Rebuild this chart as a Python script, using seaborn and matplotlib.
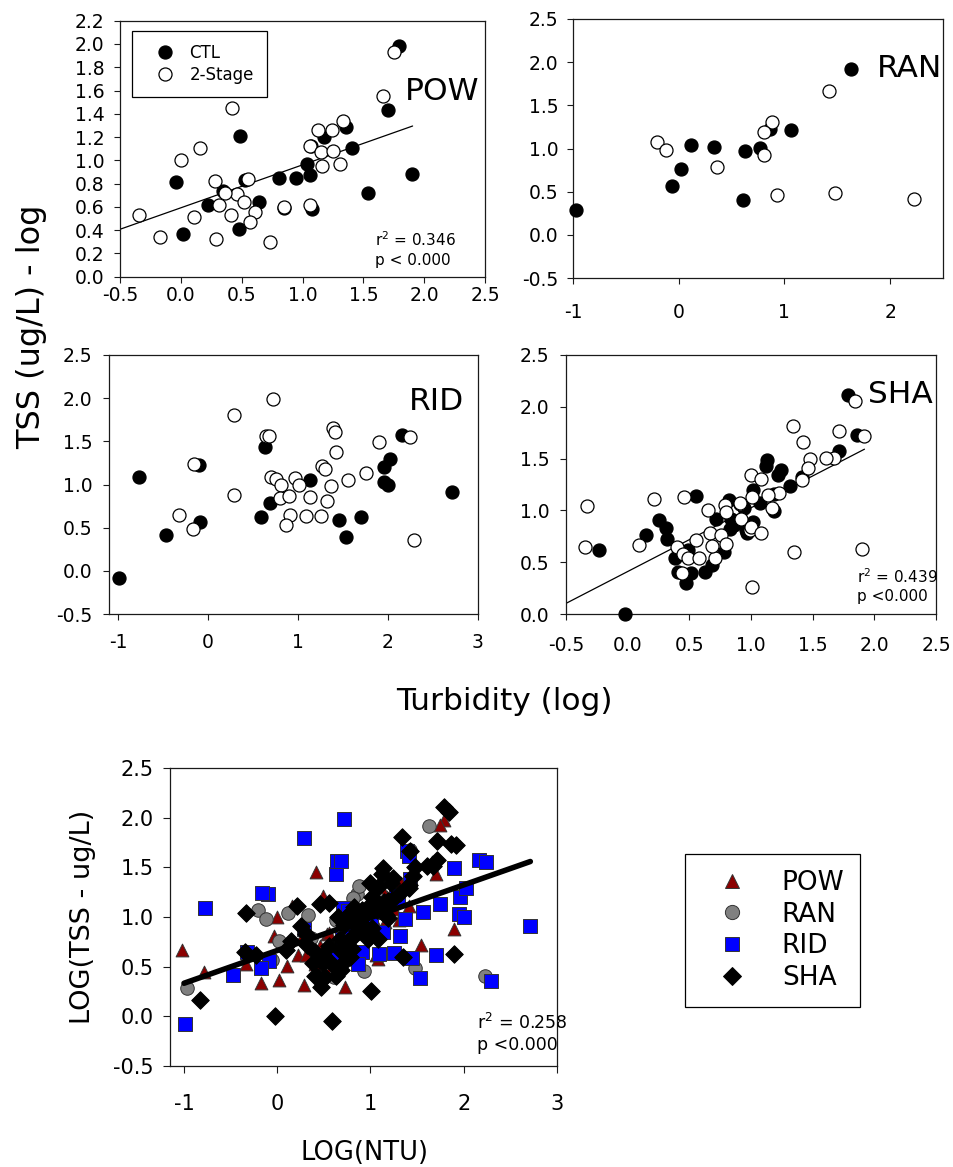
import numpy as np
import pandas as pd
import matplotlib
matplotlib.use("Agg")
import matplotlib.pyplot as plt
from matplotlib.ticker import FormatStrFormatter
from matplotlib.lines import Line2D
import seaborn as sns

# ---------------- data (log10 turbidity, log10 TSS) ----------------
POW_CTL_X = [1.79, 1.70, 0.49, 1.36, 1.41, 1.18, 1.07, 1.04, 1.06, 0.95, 0.81, 1.90, 1.54,
             1.08, 0.85, 0.64, 0.53, 0.35, 0.22, 0.48, 0.02, -0.04]
POW_CTL_Y = [1.98, 1.43, 1.21, 1.29, 1.11, 1.20, 1.12, 0.97, 0.87, 0.85, 0.85, 0.88, 0.72,
             0.58, 0.59, 0.64, 0.83, 0.74, 0.62, 0.41, 0.37, 0.81]
POW_2S_X = [1.75, 1.66, 0.42, 1.33, 1.13, 1.24, 1.06, 1.15, 1.25, 1.31, 1.16, 1.06, 0.85, 0.61,
            0.57, 0.55, 0.46, 0.52, 0.36, 0.28, 0.31, 0.41, 0.73, 0.29, 0.11, -0.17, -0.34, 0.00,
            0.16, -1.02, -0.79]
POW_2S_Y = [1.93, 1.55, 1.45, 1.34, 1.26, 1.26, 1.12, 1.07, 1.08, 0.97, 0.95, 0.62, 0.60, 0.56,
            0.47, 0.84, 0.71, 0.64, 0.72, 0.82, 0.62, 0.53, 0.30, 0.32, 0.51, 0.34, 0.53, 1.00,
            1.11, 0.67, 0.45]

RAN_CTL_X = [-0.97, -0.06, 0.02, 0.12, 0.33, 0.63, 0.61, 0.77, 0.86, 1.06, 1.63]
RAN_CTL_Y = [0.29, 0.57, 0.76, 1.04, 1.02, 0.97, 0.40, 1.01, 1.23, 1.21, 1.92]
RAN_2S_X = [-0.21, -0.12, 0.36, 0.88, 0.81, 0.81, 0.93, 1.42, 1.48, 2.23]
RAN_2S_Y = [1.07, 0.98, 0.79, 1.31, 1.19, 0.93, 0.46, 1.67, 0.49, 0.41]

RID_CTL_X = [-0.99, -0.77, -0.47, -0.09, -0.10, 0.59, 0.63, 0.69, 1.13, 1.45, 1.53, 1.70,
             1.96, 2.02, 1.95, 2.00, 2.16, 2.71]
RID_CTL_Y = [-0.08, 1.09, 0.42, 0.56, 1.23, 0.62, 1.43, 0.78, 1.05, 0.59, 0.39, 0.62,
             1.20, 1.29, 1.03, 1.00, 1.57, 0.91]
RID_2S_X = [-0.32, -0.17, -0.16, 0.29, 0.29, 0.64, 0.68, 0.72, 0.70, 0.76, 0.81, 0.80, 0.90,
            0.91, 0.87, 0.97, 1.01, 1.09, 1.13, 1.25, 1.27, 1.30, 1.32, 1.37, 1.39, 1.41, 1.42,
            1.56, 1.75, 1.90, 2.24, 2.29]
RID_2S_Y = [0.65, 0.49, 1.24, 1.80, 0.88, 1.56, 1.56, 1.99, 1.09, 1.06, 1.00, 0.84, 0.87,
            0.65, 0.53, 1.07, 0.99, 0.63, 0.85, 0.64, 1.22, 1.18, 0.81, 0.98, 1.66, 1.61, 1.38,
            1.05, 1.13, 1.49, 1.55, 0.36]

SHA_CTL_X = [-0.02, -0.23, 0.15, 0.25, 0.31, 0.32, 0.38, 0.49, 0.41, 0.51, 0.47, 0.55, 0.63,
             0.68, 0.78, 0.72, 0.82, 0.86, 0.84, 0.96, 1.02, 1.79, 1.86, 1.71, 1.13, 1.12, 1.24,
             1.22, 1.41, 1.32, 1.19, 1.07, 1.19, 0.94, 1.02, 0.83, 0.97, -0.83, 0.59]
SHA_CTL_Y = [0.00, 0.62, 0.76, 0.91, 0.83, 0.72, 0.54, 0.62, 0.41, 0.40, 0.30, 1.14, 0.41,
             0.47, 0.60, 0.92, 1.10, 0.86, 0.92, 0.81, 1.20, 2.11, 1.73, 1.57, 1.49, 1.43, 1.39,
             1.34, 1.32, 1.24, 1.16, 1.07, 0.99, 1.02, 0.89, 0.82, 0.78, 0.16, -0.05]
SHA_2S_X = [-0.33, -0.35, 0.09, 0.21, 0.40, 0.45, 0.49, 0.44, 0.46, 0.55, 0.58, 0.71, 0.67,
            0.68, 0.76, 0.80, 0.65, 0.79, 0.80, 0.92, 0.91, 0.99, 1.01, 1.00, 1.01, 1.84, 1.34,
            1.71, 1.92, 1.42, 1.67, 1.61, 1.48, 1.46, 1.08, 1.41, 1.23, 1.14, 0.91, 1.17, 1.00,
            1.08, 1.35, 1.90]
SHA_2S_Y = [1.04, 0.65, 0.67, 1.11, 0.65, 0.58, 0.54, 0.40, 1.13, 0.71, 0.54, 0.54, 0.78,
            0.66, 0.76, 0.68, 1.00, 1.05, 0.98, 0.92, 1.06, 0.81, 1.13, 1.34, 0.26, 2.06, 1.81,
            1.77, 1.72, 1.66, 1.51, 1.51, 1.50, 1.41, 1.30, 1.29, 1.17, 1.15, 1.07, 1.02, 0.84,
            0.78, 0.60, 0.63]

# fitted regression lines: x-extent, (slope, intercept)
POW_FIT_X = [-0.5, 1.905]
POW_FIT = (0.369, 0.592)
SHA_FIT_X = [-0.5, 1.92]
SHA_FIT = (0.615, 0.410)
ALL_FIT_X = [-1.0, 2.714]
ALL_FIT = (0.330, 0.663)

POW_STATS = ["r$^2$ = 0.346", "p < 0.000"]
SHA_STATS = ["r$^2$ = 0.439", "p <0.000"]
ALL_STATS = ["r$^2$ = 0.258", "p <0.000"]

SITES = ["POW", "RAN", "RID", "SHA"]
SITE_COLORS = ["#8B0000", "#808080", "#0000FF", "#000000"]
SITE_MARKERS = ["^", "o", "s", "D"]
SITE_SIZES = [85, 95, 88, 80]

# ---------------- figure ----------------
sns.set_theme(style="ticks")
plt.rcParams["font.family"] = ["DejaVu Sans"]
plt.rcParams["mathtext.fontset"] = "dejavusans"
for k in ["text.color", "axes.labelcolor", "xtick.color", "ytick.color", "axes.edgecolor"]:
    plt.rcParams[k] = "black"

W, H = 954, 1167
fig = plt.figure(figsize=(W / 100, H / 100), dpi=100)


def rect(l, t, r, b):
    return [l / W, 1 - b / H, (r - l) / W, (b - t) / H]


def style_axes(ax, xpad, ypad, labelsize, ticklen=4):
    for sp in ax.spines.values():
        sp.set_visible(True)
        sp.set_color("#1a1a1a")
        sp.set_linewidth(0.9)
    ax.tick_params(axis="both", direction="out", length=ticklen, width=0.8,
                   labelsize=labelsize, colors="#1a1a1a", labelcolor="black")
    ax.tick_params(axis="x", pad=xpad)
    ax.tick_params(axis="y", pad=ypad)
    ax.set_xlabel("")
    ax.set_ylabel("")
    ax.set_facecolor("white")


def line_from_fit(ax, fx, fit, lw, zorder=2):
    fx = np.asarray(fx)
    fy = fit[1] + fit[0] * fx
    sns.lineplot(x=fx, y=fy, ax=ax, color="black", linewidth=lw, zorder=zorder,
                 estimator=None, sort=False)


def top_panel(box, cx, cy, sx, sy, xlim, ylim, xticks, yticks, xfmt, yfmt,
              name, name_xy, xpad, ypad, fit_x=None, fit=None, stats=None, stats_xy=None,
              legend=False):
    ax = fig.add_axes(rect(*box))
    if fit is not None:
        line_from_fit(ax, fit_x, fit, 0.9)
    for xs, ys, fc in [(cx, cy, "black"), (sx, sy, "white")]:
        df = pd.DataFrame({"x": xs, "y": ys})
        m = (df.x >= xlim[0] - 1e-9) & (df.x <= xlim[1]) & (df.y >= ylim[0] - 1e-9) & (df.y <= ylim[1])
        sns.scatterplot(data=df[m], x="x", y="y", ax=ax, color=fc, edgecolor="black",
                        linewidth=0.9, s=88, clip_on=False, zorder=3, legend=False)
    ax.set_xlim(*xlim)
    ax.set_ylim(*ylim)
    ax.set_xticks(xticks)
    ax.set_yticks(yticks)
    ax.xaxis.set_major_formatter(FormatStrFormatter(xfmt))
    ax.yaxis.set_major_formatter(FormatStrFormatter(yfmt))
    style_axes(ax, xpad, ypad, 13.5)
    ax.text(name_xy[0], name_xy[1], name, transform=ax.transAxes, ha="right",
            va="center", fontsize=22.5, zorder=5)
    if stats is not None:
        ax.text(stats_xy[0], stats_xy[1], stats[0], transform=ax.transAxes,
                ha="left", va="center", fontsize=11)
        ax.text(stats_xy[0], stats_xy[2], stats[1], transform=ax.transAxes,
                ha="left", va="center", fontsize=11)
    if legend:
        handles = [Line2D([], [], ls="none", marker="o", markersize=9.4,
                          markerfacecolor="black", markeredgecolor="black", markeredgewidth=0.9),
                   Line2D([], [], ls="none", marker="o", markersize=9.4,
                          markerfacecolor="white", markeredgecolor="black", markeredgewidth=0.9)]
        leg = ax.legend(handles, ["CTL", "2-Stage"], loc="upper left",
                        bbox_to_anchor=(0.033, 0.96), borderaxespad=0, fontsize=12,
                        frameon=True, fancybox=False, framealpha=1, edgecolor="black",
                        borderpad=0.8, labelspacing=0.2, handlelength=2.4,
                        handletextpad=0.25)
        leg.get_frame().set_linewidth(0.9)
    return ax


ax1 = top_panel((120, 20.7, 485, 276.7), POW_CTL_X, POW_CTL_Y, POW_2S_X, POW_2S_Y,
                (-0.5, 2.5), (0, 2.2), np.arange(-0.5, 2.51, 0.5), np.arange(0, 2.21, 0.2),
                "%.1f", "%.1f", "POW", (0.985, 0.725), 3, 7,
                POW_FIT_X, POW_FIT, POW_STATS, (0.699, 0.143, 0.065), legend=True)
ax2 = top_panel((573, 19, 943, 278), RAN_CTL_X, RAN_CTL_Y, RAN_2S_X, RAN_2S_Y,
                (-1, 2.5), (-0.5, 2.5), [-1, 0, 1, 2], np.arange(-0.5, 2.51, 0.5),
                "%d", "%.1f", "RAN", (0.997, 0.807), 14, 6.5)
ax3 = top_panel((109, 355, 478, 614), RID_CTL_X, RID_CTL_Y, RID_2S_X, RID_2S_Y,
                (-1.1, 3.0), (-0.5, 2.5), [-1, 0, 1, 2, 3], np.arange(-0.5, 2.51, 0.5),
                "%d", "%.1f", "RID", (0.962, 0.822), 10, 8)
ax4 = top_panel((566, 355, 936, 614), SHA_CTL_X, SHA_CTL_Y, SHA_2S_X, SHA_2S_Y,
                (-0.5, 2.5), (0, 2.5), np.arange(-0.5, 2.51, 0.5), np.arange(0, 2.51, 0.5),
                "%.1f", "%.1f", "SHA", (0.99, 0.849), 12, 8,
                SHA_FIT_X, SHA_FIT, SHA_STATS, (0.786, 0.143, 0.066))

fig.text(32 / W, 1 - 327 / H, "TSS (ug/L) - log", rotation=90, ha="center",
         va="center", fontsize=23)
fig.text(504 / W, 1 - 701 / H, "Turbidity (log)", ha="center", va="center", fontsize=22.5)

# ---------------- combined panel ----------------
site_x = [POW_CTL_X + POW_2S_X, RAN_CTL_X + RAN_2S_X, RID_CTL_X + RID_2S_X, SHA_CTL_X + SHA_2S_X]
site_y = [POW_CTL_Y + POW_2S_Y, RAN_CTL_Y + RAN_2S_Y, RID_CTL_Y + RID_2S_Y, SHA_CTL_Y + SHA_2S_Y]
frames = []
for name, xs, ys in zip(SITES, site_x, site_y):
    frames.append(pd.DataFrame({"x": xs, "y": ys, "site": name}))
alldf = pd.concat(frames, ignore_index=True)

ax5 = fig.add_axes(rect(170, 768, 557, 1066))
line_from_fit(ax5, ALL_FIT_X, ALL_FIT, 4.0, zorder=4)
for name, col, mk, sz in zip(SITES, SITE_COLORS, SITE_MARKERS, SITE_SIZES):
    sub = alldf[alldf.site == name]
    ec = "#333333" if name != "SHA" else "black"
    sns.scatterplot(data=sub, x="x", y="y", ax=ax5, color=col, marker=mk, s=sz,
                    edgecolor=ec, linewidth=0.7, zorder=3 if name != "SHA" else 5,
                    legend=False)
ax5.set_xlim(-1.15, 3.0)
ax5.set_ylim(-0.5, 2.5)
ax5.set_xticks([-1, 0, 1, 2, 3])
ax5.set_yticks(np.arange(-0.5, 2.51, 0.5))
ax5.xaxis.set_major_formatter(FormatStrFormatter("%d"))
ax5.yaxis.set_major_formatter(FormatStrFormatter("%.1f"))
style_axes(ax5, 15, 7, 15, ticklen=5)
ax5.text(0.793, 0.144, ALL_STATS[0], transform=ax5.transAxes, ha="left", va="center", fontsize=12.5)
ax5.text(0.793, 0.070, ALL_STATS[1], transform=ax5.transAxes, ha="left", va="center", fontsize=12.5)

fig.text(83 / W, 1 - 917 / H, "LOG(TSS - ug/L)", rotation=90, ha="center",
         va="center", fontsize=19.5)
fig.text(365 / W, 1 - 1153 / H, "LOG(NTU)", ha="center", va="center", fontsize=18.5)

handles = []
for name, col, mk, sz in zip(SITES, SITE_COLORS, SITE_MARKERS, SITE_SIZES):
    ec = "#333333" if name != "SHA" else "black"
    handles.append(Line2D([], [], ls="none", marker=mk, markersize=np.sqrt(sz) * 1.05,
                          markerfacecolor=col, markeredgecolor=ec, markeredgewidth=0.7))
leg = fig.legend(handles, SITES, loc="upper left", bbox_to_anchor=(685 / W, 1 - 854 / H),
                 borderaxespad=0, fontsize=19, frameon=True, fancybox=False, framealpha=1,
                 edgecolor="black", borderpad=0.6, labelspacing=0.22, handlelength=2.35,
                 handletextpad=0.72)
leg.get_frame().set_linewidth(0.9)

fig.savefig("out.png", dpi=100, facecolor="white")
